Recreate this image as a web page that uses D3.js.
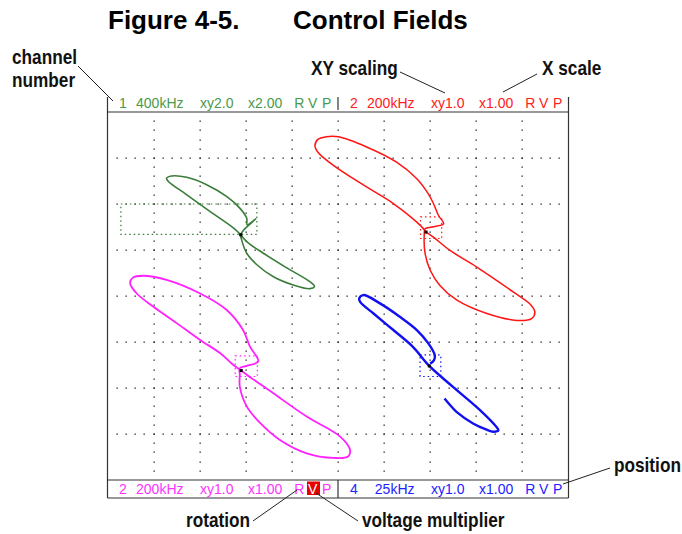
<!DOCTYPE html>
<html lang="en">
<head>
<meta charset="UTF-8" />
<title>Figure 4-5. Control Fields</title>
<style>
  html, body { margin: 0; padding: 0; background: #fff; }
  svg { display: block; font-family: "Liberation Sans", Arial, sans-serif; }
</style>
</head>
<body>
<script src="https://d3js.org/d3.v7.min.js"></script>
<script>
// ---- data (screen divisions: x -5..5, y -4..4) ----
const chNumber = ["1", "2", "2", "4"];
const chFreq = ["400kHz", "200kHz", "200kHz", "25kHz"];
const chXY = ["xy2.0", "xy1.0", "xy1.0", "xy1.0"];
const chXScale = ["x2.00", "x1.00", "x1.00", "x1.00"];
const chFlags = ["R", "V", "P"];
const chSelected = [null, null, "V", null];
const chCenter = [[-2.11, 1.33], [1.91, 1.39], [-2.10, -1.62], [1.98, -1.52]];
// position window: x0, x1, y0, y1
const chWindow = [[-4.71, -1.76, 1.34, 2.0], [1.79, 2.25, 1.25, 1.72],
                  [-2.23, -1.75, -1.75, -1.30], [1.78, 2.23, -1.75, -1.28]];

// traces, offsets from channel centre
const traceGreen = [[0,0],[-0.16,0.15],[-0.67,0.51],[-1.17,0.87],[-1.57,1.16],[-1.61,1.23],
  [-1.50,1.28],[-1.17,1.25],[-0.74,1.09],[-0.30,0.83],[-0.02,0.58],[0.13,0.36],[0.14,0.22],
  [0.33,0.35],[0.07,0.11],[0,0],[0.02,-0.11],[0.13,-0.40],[0.35,-0.65],[0.71,-0.91],
  [1.14,-1.09],[1.50,-1.17],[1.60,-1.12],[1.50,-1.02],[1.00,-0.72],[0.49,-0.40],[0.13,-0.15],[0,0]];
const traceRed = [[0,0],[-0.13,0.15],[-0.71,0.62],[-1.29,0.98],[-2.01,1.45],[-2.34,1.73],
  [-2.41,1.88],[-2.34,2.02],[-2.17,2.07],[-1.90,2.07],[-1.29,1.85],[-0.64,1.52],[-0.20,1.16],
  [0.05,0.83],[0.16,0.62],[0.27,0.36],[0.38,0.18],[0.13,0.11],[-0.02,0.07],[-0.04,-0.07],
  [-0.02,-0.47],[0.09,-0.83],[0.30,-1.16],[0.67,-1.48],[1.32,-1.77],[1.97,-1.92],[2.29,-1.88],
  [2.36,-1.74],[2.26,-1.57],[1.89,-1.30],[1.10,-0.76],[0.52,-0.40],[0.16,-0.11],[0,0]];
const traceMagenta = [[0,0],[-0.17,0.12],[-0.46,0.38],[-0.90,0.67],[-1.40,1.03],[-1.91,1.39],
  [-2.27,1.68],[-2.41,1.90],[-2.35,2.02],[-2.13,2.06],[-1.62,1.97],[-0.90,1.68],[-0.32,1.32],
  [0.04,0.88],[0.19,0.52],[0.37,0.20],[0.12,0.10],[-0.03,0.05],[-0.03,-0.09],[-0.03,-0.35],
  [0.12,-0.78],[0.41,-1.14],[0.84,-1.51],[1.42,-1.80],[2.00,-1.90],[2.32,-1.87],[2.36,-1.72],
  [2.14,-1.43],[1.42,-1.00],[0.69,-0.49],[0.12,-0.09],[0,0]];
const traceBlue = [[0.33,-0.71],[0.45,-0.85],[0.59,-1.00],[0.95,-1.25],[1.23,-1.38],[1.39,-1.43],
  [1.50,-1.40],[1.46,-1.33],[1.10,-0.96],[0.52,-0.46],[0,0],[-0.35,0.41],[-0.78,0.78],
  [-1.21,1.14],[-1.50,1.39],[-1.52,1.47],[-1.43,1.54],[-1.07,1.36],[-0.64,1.07],[-0.27,0.78],
  [-0.02,0.49],[0.12,0.23],[0.10,0.12],[0.02,0.05]];
const traces = [traceGreen, traceRed, traceMagenta, traceBlue];

// ---- styling ----
const textColor = ["#4a9a4a", "#ff2020", "#ff33ff", "#2222ff"];
const traceColor = ["#3a7d3a", "#ff1414", "#ff22ff", "#1010f0"];
const traceWidth = [1.6, 1.5, 1.8, 2.4];

const width = 682, height = 534;
const svg = d3.select("body").append("svg")
  .attr("width", width).attr("height", height);

const x = d3.scaleLinear().domain([-5, 5]).range([107.5, 568.5]);
const y = d3.scaleLinear().domain([-4, 4]).range([480, 112]);

// title
svg.append("text").attr("x", 108).attr("y", 29)
  .attr("font-size", 26).attr("font-weight", "bold").text("Figure 4-5.");
svg.append("text").attr("x", 293).attr("y", 29)
  .attr("font-size", 26).attr("font-weight", "bold").text("Control Fields");

// dotted graticule
const dots = svg.append("g").attr("fill", "#222");
d3.range(-4, 5).forEach(c => {
  d3.range(-19, 20).forEach(i => {
    dots.append("rect").attr("x", Math.round(x(c)) - 0.5).attr("y", Math.round(y(i / 5)) - 0.5)
      .attr("width", 1.3).attr("height", 1.3);
  });
});
d3.range(-3, 4).forEach(r => {
  d3.range(-24, 25).forEach(i => {
    dots.append("rect").attr("x", Math.round(x(i / 5)) - 0.5).attr("y", Math.round(y(r)) - 0.5)
      .attr("width", 1.3).attr("height", 1.3);
  });
});

// frame
const frame = svg.append("g").attr("stroke", "#333").attr("stroke-width", 1.2).attr("fill", "none");
const L = x(-5), R = x(5), T = y(4), B = y(-4), mid = x(0);
frame.append("line").attr("x1", L).attr("x2", L).attr("y1", 97).attr("y2", 498);
frame.append("line").attr("x1", R).attr("x2", R).attr("y1", 97).attr("y2", 498);
frame.append("line").attr("x1", L).attr("x2", R).attr("y1", T).attr("y2", T);
frame.append("line").attr("x1", L).attr("x2", R).attr("y1", B).attr("y2", B);
frame.append("line").attr("x1", L).attr("x2", R).attr("y1", 498).attr("y2", 498);
frame.append("line").attr("x1", mid).attr("x2", mid).attr("y1", 97).attr("y2", 110);
frame.append("line").attr("x1", mid).attr("x2", mid).attr("y1", B).attr("y2", 498);

// position windows
chWindow.forEach((w, i) => {
  svg.append("rect")
    .attr("x", x(w[0])).attr("y", y(w[3]))
    .attr("width", x(w[1]) - x(w[0])).attr("height", y(w[2]) - y(w[3]))
    .attr("fill", "none").attr("stroke", traceColor[i]).attr("stroke-width", 1.2)
    .attr("stroke-dasharray", "1.5 3");
});

// traces
const line = d3.line().curve(d3.curveCatmullRom.alpha(0.5));
traces.forEach((t, i) => {
  const c = chCenter[i];
  svg.append("path")
    .attr("d", line(t.map(p => [x(c[0] + p[0]), y(c[1] + p[1])])))
    .attr("fill", "none").attr("stroke", traceColor[i])
    .attr("stroke-width", traceWidth[i]).attr("stroke-linejoin", "round");
});

// centre markers
chCenter.forEach(c => {
  svg.append("rect").attr("x", x(c[0]) - 1.5).attr("y", y(c[1]) - 1.5)
    .attr("width", 3).attr("height", 3).attr("fill", "#000");
});

// control fields (header / footer)
const panelDx = [0, 231, 0, 231];
const panelBase = [108, 108, 494, 494];
chNumber.forEach((n, i) => {
  const g = svg.append("g").attr("transform", `translate(${panelDx[i]},${panelBase[i]})`)
    .attr("font-size", 14).attr("fill", textColor[i]);
  g.append("text").attr("x", 119).text(n);
  g.append("text").attr("x", 183.5).attr("text-anchor", "end").text(chFreq[i]);
  g.append("text").attr("x", 200).text(chXY[i]);
  g.append("text").attr("x", 248).text(chXScale[i]);
  const fx = [294.3, 308, 322];
  chFlags.forEach((f, k) => {
    if (chSelected[i] === f) {
      g.append("rect").attr("x", fx[k] - 1).attr("y", -12.5)
        .attr("width", 13).attr("height", 13.5).attr("fill", "#e60000");
    }
    g.append("text").attr("x", fx[k])
      .attr("fill", chSelected[i] === f ? "#fff" : null).text(f);
  });
});

// annotations
const ann = svg.append("g");
function label(tx, ty, s) {
  ann.append("text").attr("transform", `translate(${tx},${ty}) scale(0.82,1)`)
    .attr("font-size", 21).attr("font-weight", "bold").attr("fill", "#111").text(s);
}
label(12, 64, "channel");
label(12, 87, "number");
label(311, 75, "XY scaling");
label(542, 75, "X scale");
label(614, 472, "position");
label(186, 527, "rotation");
label(362, 527, "voltage multiplier");

const leaders = [
  [78, 66, 113, 101],
  [400, 72, 445, 93],
  [537, 74, 503, 92],
  [610, 468, 563, 484],
  [253, 521, 297, 490],
  [358, 521, 316, 493]
];
ann.selectAll("line.lead").data(leaders).join("line")
  .attr("x1", d => d[0]).attr("y1", d => d[1]).attr("x2", d => d[2]).attr("y2", d => d[3])
  .attr("stroke", "#222").attr("stroke-width", 1);
</script>
</body>
</html>
